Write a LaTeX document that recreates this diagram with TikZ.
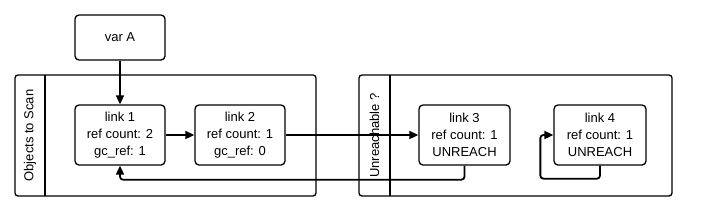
\documentclass[tikz,border=0pt]{standalone}
\usepackage{fontspec}
\setmainfont{Liberation Sans}
\usetikzlibrary{arrows.meta}

\begin{document}
\begin{tikzpicture}[x=1pt,y=-1pt,>={Triangle[length=9pt,width=8pt]},
  lane/.style={draw,line width=1.3pt,rounded corners=3pt,inner sep=0pt},
  objbox/.style={draw,line width=1.3pt,rounded corners=4pt,align=center,
    minimum width=90pt,minimum height=60pt,inner sep=0pt},
  link/.style={line width=1.8pt},
  every node/.style={font=\fontsize{13}{17}\selectfont}]
  \useasboundingbox (0,0) rectangle (720,210);

  % the two lanes with their side titles
  \node[lane,minimum width=301pt,minimum height=121pt] (scan) at (165.5,135.5) {};
  \draw[line width=1.3pt] (45,75) -- (45,196);
  \node[rotate=90] (scantitle) at (30,135.5) {Objects to Scan};

  \node[lane,minimum width=313pt,minimum height=121pt] (unreach) at (515.5,135.5) {};
  \draw[line width=1.3pt] (390,75) -- (390,196);
  \node[rotate=90] (unreachtitle) at (374.5,135.5) {Unreachable ?};

  % objects
  \node[objbox,minimum height=45pt] (varA) at (120,37.5) {var A};
  \node[objbox] (link1) at (120,135) {link 1\\ref count: 2\\gc\_ref: 1};
  \node[objbox] (link2) at (240,135) {link 2\\ref count: 1\\gc\_ref: 0};
  \node[objbox,minimum width=91pt] (link3) at (464.5,135) {link 3\\ref count: 1\\UNREACH};
  \node[objbox,minimum width=92pt] (link4) at (600,135) {link 4\\ref count: 1\\UNREACH};

  % references
  \draw[link,->] (varA) -- (link1);
  \draw[link,->] (link1) -- (link2);
  \draw[link,->] (link2) -- (link3);
  \draw[link,->,rounded corners=3pt] (link3.south) -- ++(0,14) -| (link1.south);
  \draw[link,->,rounded corners=3pt] (link4.south) -- ++(0,13)
    -| ([xshift=-13pt]link4.west) -- (link4.west);
\end{tikzpicture}
\end{document}
